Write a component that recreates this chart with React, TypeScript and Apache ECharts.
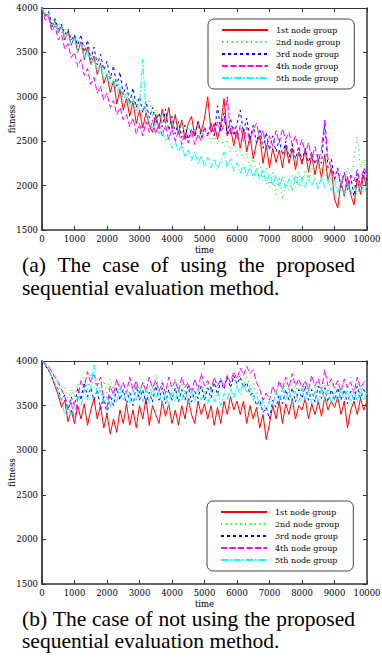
import React, { useEffect, useRef } from "react";
import * as echarts from "echarts";

const STEP = 100; // sampling step of the time axis
const seriesNames = ["1st node group", "2nd node group", "3rd node group", "4th node group", "5th node group"];
const seriesColors = ["#ff0000", "#00ff00", "#0000ff", "#ff00ff", "#00ffff"];
const seriesDash: any[] = ["solid", [1.2, 3.6], [3, 3], [6, 2.5], [7, 2, 1.5, 2]];

// ---- (a) with sequential evaluation ----
const redA = [4000, 3900, 3940, 3780, 3860, 3720, 3800, 3640, 3740, 3580, 3680,
  3500, 3620, 3420, 3560, 3360, 3460, 3250, 3380, 3150, 3250,
  3050, 3180, 2920, 3080, 2850, 2980, 2780, 2950, 2700, 2850,
  2650, 2820, 2680, 2600, 2800, 2640, 2860, 2700, 2880, 2640,
  2800, 2580, 2740, 2520, 2700, 2780, 2560, 2720, 2600, 2760,
  3000, 2600, 2700, 2520, 2680, 2980, 2560, 2650, 2450, 2620,
  2420, 2640, 2380, 2560, 2300, 2480, 2560, 2250, 2450, 2200,
  2420, 2260, 2400, 2200, 2460, 2250, 2420, 2180, 2380, 2240,
  2400, 2150, 2340, 2120, 2300, 2080, 2350, 2050, 2200, 1850,
  1750, 2050, 1880, 2100, 1900, 1780, 2080, 1900, 2120, 1950];
const greenA = [4000, 3950, 3880, 3900, 3800, 3820, 3720, 3760, 3660, 3700, 3600,
  3640, 3540, 3580, 3460, 3500, 3380, 3420, 3300, 3340, 3220,
  3260, 3140, 3200, 3060, 3100, 2980, 3040, 2920, 2980, 2860,
  2950, 2820, 2980, 2780, 2860, 2740, 2820, 2700, 2780, 2660,
  2740, 2620, 2700, 2580, 2660, 2560, 2640, 2520, 2620, 2500,
  2600, 2480, 2580, 2460, 2540, 2440, 2520, 2380, 2480, 2340,
  2420, 2300, 2360, 2220, 2300, 2150, 2250, 2050, 2200, 1980,
  2150, 1900, 2100, 1850, 2050, 1950, 2120, 1980, 2150, 2000,
  2180, 2050, 2200, 2080, 2250, 2100, 2180, 2020, 2100, 1980,
  2050, 2150, 2000, 2200, 2100, 2300, 2550, 2200, 2300, 2100];
const blueA = [4000, 3920, 3960, 3820, 3880, 3760, 3820, 3700, 3760, 3640, 3700,
  3580, 3700, 3500, 3640, 3420, 3560, 3360, 3480, 3300, 3400,
  3200, 3350, 3120, 3280, 3020, 3150, 2920, 3100, 2880, 3000,
  2820, 2950, 2760, 2880, 2700, 2820, 2660, 2860, 2620, 2780,
  2580, 2720, 2540, 2680, 2520, 2640, 2560, 2720, 2540, 2660,
  2580, 2700, 2560, 2900, 2620, 2820, 2580, 2760, 2560, 2700,
  2850, 2600, 2760, 2520, 2680, 2480, 2640, 2420, 2600, 2400,
  2560, 2380, 2520, 2340, 2500, 2320, 2460, 2300, 2440, 2280,
  2420, 2260, 2380, 2240, 2360, 2250, 2700, 2200, 2300, 2080,
  2200, 1980, 2150, 1950, 2100, 1880, 2150, 2000, 2180, 2050];
const magentaA = [4000, 3860, 3900, 3740, 3800, 3640, 3700, 3540, 3600, 3440, 3500,
  3340, 3420, 3240, 3320, 3140, 3220, 3040, 3120, 2960, 3040,
  2880, 2960, 2800, 2880, 2740, 2800, 2660, 2760, 2580, 2700,
  2560, 2720, 2600, 2740, 2580, 2700, 2560, 2680, 2520, 2640,
  2500, 2620, 2460, 2600, 2480, 2620, 2460, 2580, 2500, 2640,
  2560, 2700, 2580, 2720, 2600, 2680, 3000, 2580, 2660, 2520,
  2680, 2500, 2660, 2480, 2640, 2700, 2520, 2620, 2420, 2560,
  2440, 2620, 2480, 2640, 2520, 2600, 2460, 2560, 2400, 2520,
  2360, 2480, 2300, 2440, 2280, 2400, 2750, 2300, 2200, 2060,
  2180, 2000, 2150, 1980, 2120, 2050, 2180, 1980, 2200, 2120];
const cyanA = [4000, 3900, 3940, 3800, 3860, 3720, 3780, 3660, 3720, 3580, 3660,
  3500, 3600, 3440, 3520, 3360, 3440, 3280, 3360, 3200, 3260,
  3120, 3200, 3040, 3120, 2960, 3040, 2900, 2980, 2840, 2920,
  3420, 2800, 2720, 2640, 2700, 2580, 2640, 2500, 2560, 2420,
  2500, 2380, 2460, 2320, 2400, 2280, 2380, 2240, 2340, 2220,
  2320, 2200, 2300, 2180, 2280, 2380, 2200, 2300, 2160, 2260,
  2140, 2240, 2100, 2220, 2080, 2200, 2060, 2180, 2020, 2140,
  2000, 2120, 1980, 2100, 1960, 2080, 1950, 2120, 2000, 2100,
  1980, 2120, 2000, 2080, 1960, 2100, 1980, 2080, 1940, 2060,
  1920, 2050, 1900, 2020, 1880, 2000, 1900, 2050, 1920, 2000];

// ---- (b) without sequential evaluation ----
const redB = [4000, 3950, 3900, 3820, 3720, 3620, 3480, 3560, 3320, 3450, 3300,
  3500, 3350, 3520, 3280, 3450, 3580, 3350, 3500, 3250, 3400,
  3180, 3350, 3200, 3450, 3300, 3520, 3280, 3450, 3250, 3500,
  3350, 3580, 3280, 3500, 3400, 3300, 3550, 3380, 3520, 3300,
  3450, 3280, 3500, 3350, 3580, 3400, 3300, 3550, 3400, 3520,
  3350, 3500, 3280, 3480, 3300, 3550, 3400, 3600, 3450, 3550,
  3400, 3550, 3300, 3500, 3350, 3480, 3250, 3400, 3120, 3300,
  3500, 3350, 3550, 3300, 3520, 3400, 3580, 3350, 3500, 3450,
  3580, 3350, 3520, 3400, 3550, 3380, 3600, 3450, 3550, 3480,
  3600, 3400, 3550, 3250, 3450, 3550, 3400, 3580, 3450, 3550];
const greenB = [4000, 3980, 3920, 3880, 3800, 3760, 3650, 3700, 3580, 3680, 3600,
  3750, 3640, 3820, 3680, 3850, 3700, 3800, 3650, 3780, 3640,
  3800, 3660, 3780, 3640, 3760, 3680, 3800, 3650, 3780, 3620,
  3760, 3640, 3720, 3600, 3850, 3660, 3780, 3620, 3740, 3680,
  3800, 3640, 3760, 3620, 3720, 3660, 3780, 3640, 3760, 3620,
  3740, 3660, 3800, 3680, 3820, 3700, 3850, 3720, 3800, 3700,
  3860, 3720, 3840, 3700, 3760, 3620, 3700, 3560, 3640, 3580,
  3700, 3620, 3760, 3640, 3780, 3660, 3800, 3650, 3760, 3640,
  3780, 3660, 3820, 3680, 3760, 3640, 3740, 3620, 3760, 3660,
  3740, 3640, 3780, 3660, 3820, 3700, 3760, 3640, 3720, 3680];
const blueB = [4000, 3950, 3900, 3820, 3740, 3680, 3560, 3620, 3460, 3600, 3500,
  3700, 3560, 3760, 3600, 3700, 3560, 3680, 3460, 3600, 3400,
  3620, 3500, 3700, 3560, 3680, 3520, 3650, 3500, 3720, 3560,
  3680, 3520, 3650, 3540, 3720, 3560, 3700, 3520, 3680, 3560,
  3700, 3540, 3680, 3560, 3720, 3540, 3660, 3580, 3720, 3560,
  3700, 3580, 3760, 3620, 3780, 3680, 3820, 3700, 3840, 3740,
  3820, 3700, 3760, 3620, 3640, 3500, 3560, 3420, 3480, 3350,
  3560, 3480, 3620, 3520, 3680, 3560, 3700, 3540, 3680, 3580,
  3720, 3560, 3680, 3540, 3720, 3580, 3700, 3540, 3680, 3560,
  3700, 3560, 3680, 3520, 3660, 3560, 3720, 3580, 3680, 3600];
const magentaB = [4000, 3970, 3940, 3880, 3820, 3760, 3680, 3600, 3450, 3550, 3300,
  3600, 3780, 3700, 3880, 3760, 3860, 3720, 3820, 3550, 3480,
  3720, 3620, 3800, 3680, 3760, 3640, 3820, 3680, 3780, 3640,
  3760, 3660, 3820, 3700, 3780, 3660, 3760, 3640, 3820, 3700,
  3780, 3660, 3820, 3700, 3760, 3640, 3800, 3680, 3860, 3720,
  3780, 3680, 3820, 3720, 3800, 3700, 3840, 3760, 3880, 3800,
  3920, 3840, 3940, 3860, 3900, 3760, 3680, 3560, 3640, 3560,
  3720, 3620, 3780, 3680, 3820, 3700, 3860, 3720, 3800, 3700,
  3780, 3680, 3840, 3720, 3800, 3680, 3900, 3720, 3800, 3700,
  3780, 3660, 3800, 3700, 3760, 3640, 3820, 3700, 3760, 3800];
const cyanB = [4000, 3950, 3900, 3820, 3740, 3660, 3560, 3400, 3520, 3380, 3500,
  3600, 3500, 3680, 3560, 3700, 3960, 3600, 3680, 3520, 3600,
  3480, 3640, 3540, 3700, 3560, 3660, 3520, 3680, 3560, 3700,
  3540, 3680, 3520, 3700, 3560, 3660, 3520, 3640, 3500, 3680,
  3540, 3700, 3560, 3680, 3520, 3660, 3540, 3700, 3560, 3660,
  3520, 3680, 3540, 3660, 3500, 3640, 3560, 3700, 3580, 3720,
  3620, 3760, 3640, 3700, 3560, 3640, 3480, 3560, 3440, 3560,
  3500, 3660, 3540, 3700, 3560, 3680, 3520, 3660, 3540, 3700,
  3560, 3680, 3520, 3660, 3540, 3700, 3560, 3680, 3520, 3660,
  3540, 3700, 3560, 3680, 3520, 3660, 3540, 3700, 3560, 3640];

const valuesA = [redA, greenA, blueA, magentaA, cyanA];
const valuesB = [redB, greenB, blueB, magentaB, cyanB];

const captionA = ["(a) The case of using the proposed", "sequential evaluation method."];
const captionB = ["(b) The case of not using the proposed", "sequential evaluation method."];

const AXIS_FONT = "'DejaVu Serif', serif";
const CAP_FAMILY = "'Liberation Serif', 'Times New Roman', serif";
const CAP_SIZE = 21.5;

function justifiedWords(line: string, x0: number, x1: number, y: number) {
  const ctx = document.createElement("canvas").getContext("2d")!;
  ctx.font = `${CAP_SIZE}px ${CAP_FAMILY}`;
  const words = line.split(" ");
  const widths = words.map((w) => ctx.measureText(w).width);
  const total = widths.reduce((a, b) => a + b, 0);
  const gap = words.length > 1 ? (x1 - x0 - total) / (words.length - 1) : 0;
  let x = x0;
  return words.map((w, i) => {
    const el = {
      type: "text",
      x,
      y,
      style: { text: w, fontFamily: CAP_FAMILY, fontSize: CAP_SIZE, fill: "#000", textAlign: "left", textVerticalAlign: "middle" },
    };
    x += widths[i] + gap;
    return el;
  });
}

function plainLine(line: string, x0: number, y: number) {
  return {
    type: "text",
    x: x0,
    y,
    style: { text: line, fontFamily: CAP_FAMILY, fontSize: CAP_SIZE, fill: "#000", textAlign: "left", textVerticalAlign: "middle" },
  };
}

export default function App() {
  const ref = useRef<HTMLDivElement>(null);
  useEffect(() => {
    document.body.style.margin = "0";
    const chart = echarts.init(ref.current!, undefined, { renderer: "svg" });
    const axisColor = "#333";
    const grids = [
      { left: 42, top: 8, width: 325, height: 222, outerBoundsMode: "none", containLabel: false },
      { left: 42, top: 361, width: 325, height: 223, outerBoundsMode: "none", containLabel: false },
    ];
    const xAxes: any[] = [];
    const yAxes: any[] = [];
    const series: any[] = [];
    const legends: any[] = [];
    const legendPos = [
      { left: 208, top: 19 },
      { left: 207, top: 501 },
    ];
    const fmt = (v: number) => String(v);
    [valuesA, valuesB].forEach((vals, g) => {
      const tick = { show: true, inside: true, length: 4, lineStyle: { color: axisColor, width: 1 } };
      xAxes.push({
        type: "value", gridIndex: g, position: "bottom", min: 0, max: 10000, interval: 1000,
        name: "time", nameLocation: "middle", nameGap: 15, nameMoveOverlap: false,
        nameTextStyle: { fontFamily: AXIS_FONT, fontSize: 8.5, color: "#000" },
        axisLine: { show: true, onZero: false, lineStyle: { color: axisColor, width: 1.5 } },
        axisTick: tick, splitLine: { show: false },
        axisLabel: { fontFamily: AXIS_FONT, fontSize: 8.5, color: "#000", margin: 4, hideOverlap: false, formatter: fmt },
      });
      xAxes.push({
        type: "value", gridIndex: g, position: "top", min: 0, max: 10000, interval: 1000,
        axisLine: { show: true, onZero: false, lineStyle: { color: axisColor, width: 1.2 } },
        axisTick: tick, splitLine: { show: false }, axisLabel: { show: false },
      });
      yAxes.push({
        type: "value", gridIndex: g, position: "left", min: 1500, max: 4000, interval: 500,
        name: "fitness", nameLocation: "middle", nameGap: 26, nameRotate: 90, nameMoveOverlap: false,
        nameTextStyle: { fontFamily: AXIS_FONT, fontSize: 8.5, color: "#000" },
        axisLine: { show: true, onZero: false, lineStyle: { color: axisColor, width: 1.8 } },
        axisTick: tick, splitLine: { show: false },
        axisLabel: { fontFamily: AXIS_FONT, fontSize: 8.5, color: "#000", margin: 4, formatter: fmt },
      });
      yAxes.push({
        type: "value", gridIndex: g, position: "right", min: 1500, max: 4000, interval: 500,
        axisLine: { show: true, onZero: false, lineStyle: { color: axisColor, width: 1.5 } },
        axisTick: tick, splitLine: { show: false }, axisLabel: { show: false },
      });
      vals.forEach((arr, k) => {
        series.push({
          type: "line",
          name: seriesNames[k],
          xAxisIndex: 2 * g,
          yAxisIndex: 2 * g,
          data: arr.map((v, i) => [i * STEP, v]),
          symbol: "none",
          showSymbol: false,
          lineStyle: { color: seriesColors[k], width: 1, type: seriesDash[k] },
          itemStyle: { color: seriesColors[k] },
          z: 2 + k,
        });
      });
      legends.push({
        orient: "vertical",
        left: legendPos[g].left,
        top: legendPos[g].top,
        padding: [7, 14, 7, 13],
        itemWidth: 46,
        itemHeight: 8,
        itemGap: 4,
        selectedMode: false,
        backgroundColor: "#fff",
        borderColor: "#444",
        borderWidth: 1,
        borderRadius: 6,
        itemStyle: { opacity: 0 },
        textStyle: { fontFamily: AXIS_FONT, fontSize: 8, color: "#000", padding: [0, 0, 0, 3] },
        data: seriesNames,
        z: 20,
      });
    });

    const graphic: any[] = [
      ...justifiedWords(captionA[0], 22, 355, 265),
      plainLine(captionA[1], 22, 288),
      ...justifiedWords(captionB[0], 22, 355, 619),
      plainLine(captionB[1], 22, 641),
    ];

    chart.setOption({
      animation: false,
      backgroundColor: "#fff",
      grid: grids,
      xAxis: xAxes,
      yAxis: yAxes,
      legend: legends,
      series,
      graphic,
    });
    return () => chart.dispose();
  }, []);
  return (
    <div
      ref={ref}
      style={{ position: "absolute", left: 0, top: 0, width: 382, height: 658 }}
    />
  );
}
